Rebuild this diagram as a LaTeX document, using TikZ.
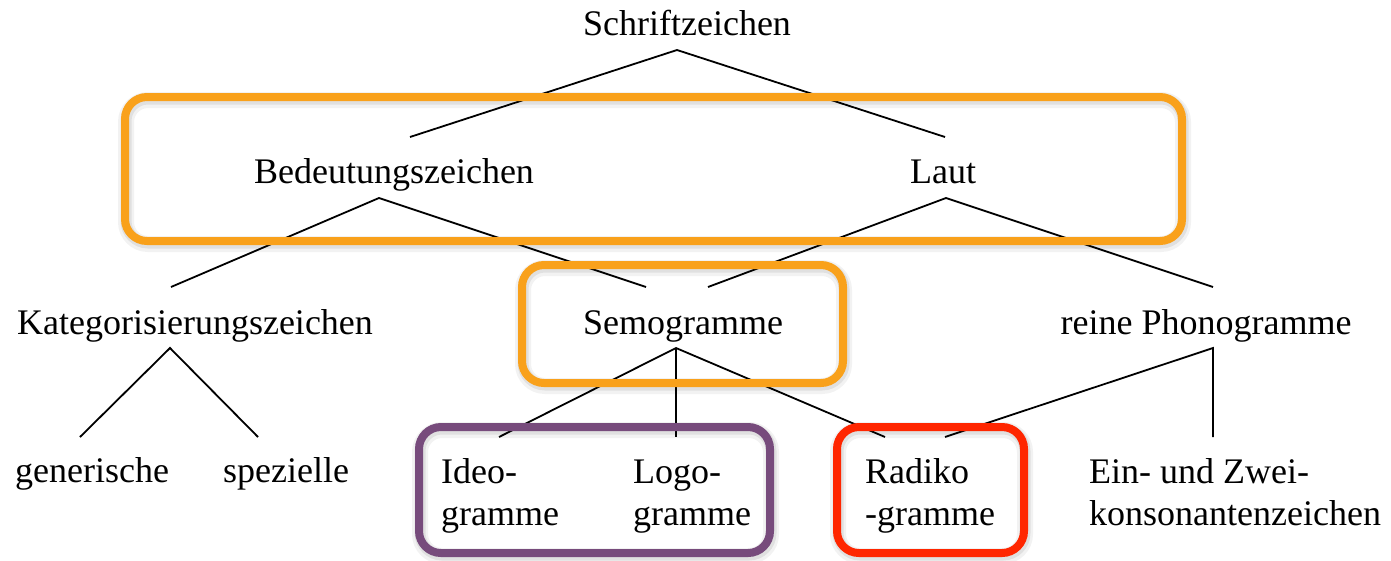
\documentclass[tikz,border=0pt]{standalone}
\usepackage{fontspec}
\setmainfont{Liberation Serif}
\definecolor{boxorange}{HTML}{F9A11B}
\definecolor{boxpurple}{HTML}{774B7C}
\definecolor{boxred}{HTML}{FF2600}
\begin{document}
\begin{tikzpicture}[x=1pt,y=-1pt,
  lbl/.style={inner sep=0pt, font=\fontsize{36}{42}\selectfont},
  edge/.style={line width=1.8pt, black},
  frame/.style={line width=8pt, rounded corners=22pt},
  halo/.style={line width=16pt, rounded corners=22pt, black, opacity=0.05},
  halo2/.style={line width=11pt, rounded corners=22pt, black, opacity=0.07}]
\useasboundingbox (0,0) rectangle (1391,560);
\fill[white] (0,0) rectangle (1391,560);

% labels
\node[lbl, anchor=base] (sz) at (687,35) {Schriftzeichen};
\node[lbl, anchor=base] (bz) at (394,183) {Bedeutungszeichen};
\node[lbl, anchor=base] (laut) at (943,183) {Laut};
\node[lbl, anchor=base] (kz) at (195,334) {Kategorisierungszeichen};
\node[lbl, anchor=base] (sg) at (683,334) {Semogramme};
\node[lbl, anchor=base] (rp) at (1206,334) {reine Phonogramme};
\node[lbl, anchor=base west] (gen) at (15,482) {generische};
\node[lbl, anchor=base west] (spez) at (223,482) {spezielle};
\node[lbl, anchor=base west, align=left] (ideo) at (441,525) {Ideo-\\gramme};
\node[lbl, anchor=base west, align=left] (logo) at (633,525) {Logo-\\gramme};
\node[lbl, anchor=base west, align=left] (radi) at (865,525) {Radiko\\-gramme};
\node[lbl, anchor=base west, align=left] (ein) at (1089,525) {Ein- und Zwei-\\konsonantenzeichen};

% connector points
\coordinate (sz-a) at (677,50);
\coordinate (bz-t) at (410,137);
\coordinate (laut-t) at (945,137);
\coordinate (bz-a) at (379,198);
\coordinate (laut-a) at (946,198);
\coordinate (kz-t) at (171,287);
\coordinate (sg-tl) at (646,287);
\coordinate (sg-tr) at (708,287);
\coordinate (rp-t) at (1213,287);
\coordinate (kz-a) at (170,348);
\coordinate (sg-a) at (676,348);
\coordinate (rp-a) at (1213,348);
\coordinate (gen-t) at (80,437);
\coordinate (spez-t) at (258,437);
\coordinate (ideo-t) at (499,437);
\coordinate (logo-t) at (676,437);
\coordinate (radi-tl) at (885,437);
\coordinate (radi-tr) at (945,437);
\coordinate (ein-t) at (1213,437);

\draw[edge] (bz-t) -- (sz-a) -- (laut-t);
\draw[edge] (kz-t) -- (bz-a) -- (sg-tl);
\draw[edge] (sg-tr) -- (laut-a) -- (rp-t);
\draw[edge] (gen-t) -- (kz-a) -- (spez-t);
\draw[edge] (ideo-t) -- (sg-a) -- (radi-tl);
\draw[edge] (sg-a) -- (logo-t);
\draw[edge] (radi-tr) -- (rp-a) -- (ein-t);

% frames with soft shadow
\foreach \a/\b/\c/\d in {125/97/1182/241, 522/265/843/383, 419/427/770/553, 837/427/1024/553}{
  \draw[halo] (\a+1,\b+3) rectangle (\c+1,\d+3);
  \draw[halo2] (\a+1,\b+2) rectangle (\c+1,\d+2);
}
\draw[frame, boxorange] (125,97) rectangle (1182,241);
\draw[frame, boxorange] (522,265) rectangle (843,383);
\draw[frame, boxpurple] (419,427) rectangle (770,553);
\draw[frame, boxred] (837,427) rectangle (1024,553);
\end{tikzpicture}
\end{document}
